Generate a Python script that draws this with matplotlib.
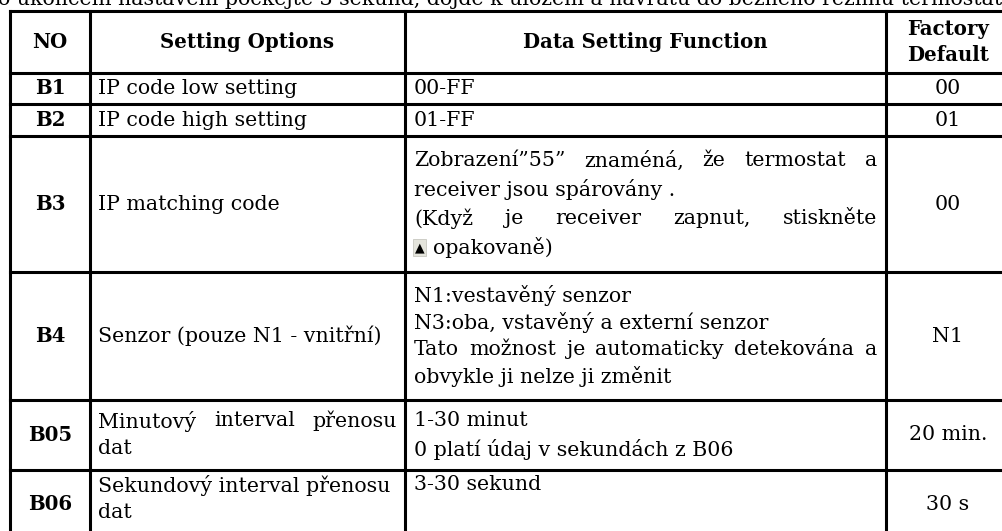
import matplotlib
matplotlib.use("Agg")
import matplotlib.pyplot as plt

W, H = 1002, 531

top_note = "o ukončení nastavení počkejte 3 sekund, dojde k uložení a návratu do běžného režimu termostatu"
headers = ["NO", "Setting Options", "Data Setting Function", "Factory\nDefault"]
codes = ["B1", "B2", "B3", "B4", "B05", "B06"]
options = [
    ["IP code low setting"],
    ["IP code high setting"],
    ["IP matching code"],
    ["Senzor (pouze N1 - vnitřní)"],
    ["Minutový interval přenosu", "dat"],
    ["Sekundový interval přenosu", "dat"],
]
options_justify = [[False], [False], [False], [False], [True, False], [False, False]]
functions = [
    ["00-FF"],
    ["01-FF"],
    ["Zobrazení”55” znaméná, že termostat a", "receiver jsou spárovány .",
     "(Když je receiver zapnut, stiskněte", "opakovaně)"],
    ["N1:vestavěný senzor", "N3:oba, vstavěný a externí senzor",
     "Tato možnost je automaticky detekována a", "obvykle ji nelze ji změnit"],
    ["1-30 minut", "0 platí údaj v sekundách z B06"],
    ["3-30 sekund"],
]
functions_justify = [[False], [False], [True, False, True, False],
                     [False, False, True, False], [False, False], [False]]
defaults = ["00", "01", "00", "N1", "20 min.", "30 s"]

# layout (pixels)
col_x = [10, 90, 405, 886, 1010]
row_y = [11, 73, 104, 136, 272, 400, 470, 540]
row_line = [30, 30, 29, 27, 28, 28]
n_row_lines = [1, 1, 4, 4, 2, 2]
FONT = "DejaVu Serif"
FS = 14.8
FSB = 14.2

fig = plt.figure(figsize=(W / 100, H / 100), dpi=100)
ax = fig.add_axes([0, 0, 1, 1])
ax.set_xlim(0, W)
ax.set_ylim(H, 0)
ax.axis("off")
renderer = fig.canvas.get_renderer()


def width_of(s):
    t = ax.text(0, 0, s, fontsize=FS, family=FONT)
    w = t.get_window_extent(renderer).width
    t.remove()
    return w


def draw_line(x0, x1, y, s, justify=False):
    if not justify:
        ax.text(x0, y, s, fontsize=FS, family=FONT, va="center", ha="left")
        return
    words = s.split(" ")
    ws = [width_of(w) for w in words]
    gap = (x1 - x0 - sum(ws)) / max(len(words) - 1, 1)
    x = x0
    for w, wd in zip(words, ws):
        ax.text(x, y, w, fontsize=FS, family=FONT, va="center", ha="left")
        x += wd + gap


# top note (cut at the top edge, as in the source page)
ax.text(-2, 5, top_note, fontsize=FS, family=FONT, va="baseline", ha="left")

# grid lines
lw = 2.2
for x in col_x:
    ax.plot([x, x], [row_y[0], row_y[-1]], color="black", lw=lw, solid_capstyle="projecting")
for y in row_y:
    ax.plot([col_x[0], col_x[-1]], [y, y], color="black", lw=lw, solid_capstyle="projecting")

# header
hy = (row_y[0] + row_y[1]) / 2
for i, h in enumerate(headers):
    cx = (col_x[i] + col_x[i + 1]) / 2
    if i == 3:
        cx = 948
    ax.text(cx, hy, h, fontsize=FSB, family=FONT, fontweight="bold",
            ha="center", va="center", linespacing=1.35)

# body
for r in range(len(codes)):
    top, bot = row_y[r + 1], row_y[r + 2]
    L = row_line[r]
    cy = (top + bot) / 2
    if r == 5:
        cy = 504

    def line_ys(n):
        if r < 2:
            return [cy]
        if r == 5:
            return [top + 15 + k * L for k in range(n)]
        y0 = cy - (n_row_lines[r] - 1) * L / 2
        return [y0 + k * L for k in range(n)]

    ax.text((col_x[0] + col_x[1]) / 2, cy, codes[r], fontsize=FSB, family=FONT,
            fontweight="bold", ha="center", va="center")
    # options
    lines = options[r]
    ys = [cy] if len(lines) == 1 else line_ys(len(lines))
    for yy, s, j in zip(ys, lines, options_justify[r]):
        draw_line(col_x[1] + 8, col_x[2] - 8, yy, s, j)
    # function
    lines = functions[r]
    ys = line_ys(len(lines))
    for k, (yy, s, j) in enumerate(zip(ys, lines, functions_justify[r])):
        x0 = col_x[2] + 9
        if r == 2 and k == 3:
            ax.text(x0 + 1, yy, "▲", fontsize=9, family="DejaVu Sans", va="center",
                    ha="left", bbox=dict(boxstyle="square,pad=0.15", fc="#e4e4dc",
                                         ec="#c8c8c0", lw=0.6))
            x0 += 19
        draw_line(x0, col_x[3] - 9, yy, s, j)
    # default
    ax.text(948, cy, defaults[r], fontsize=FS, family=FONT, ha="center", va="center")

fig.savefig("out.png", dpi=100)
